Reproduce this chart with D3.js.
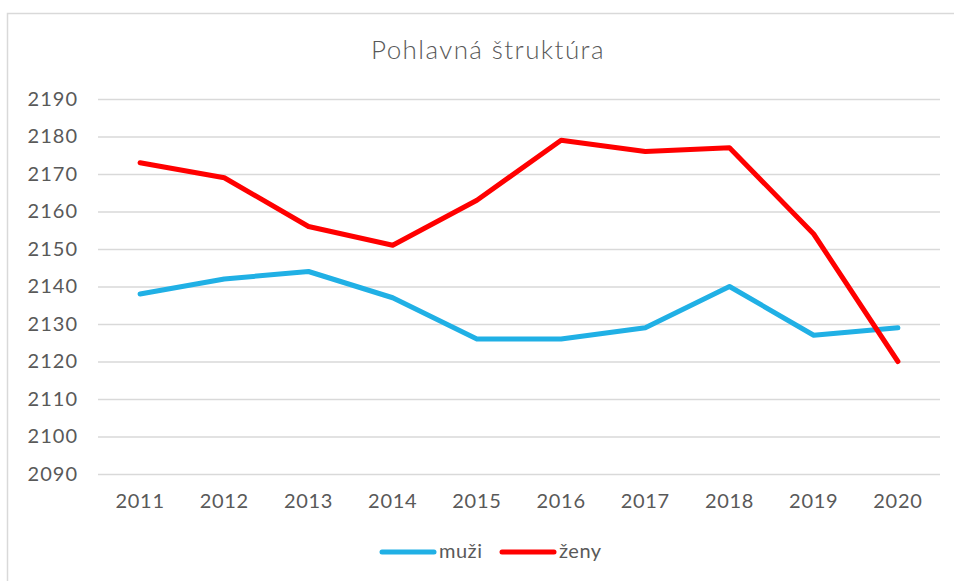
<!DOCTYPE html>
<html>
<head>
<meta charset="utf-8">
<script src="https://cdn.jsdelivr.net/npm/d3@7"></script>
<style>
  body { margin: 0; background: #fff; }
  svg { display: block; font-family: 'Lato', 'DejaVu Sans', sans-serif; }
</style>
</head>
<body>
<script>
var years = ['2011', '2012', '2013', '2014', '2015', '2016', '2017', '2018', '2019', '2020'],
    muzi = [2138, 2142, 2144, 2137, 2126, 2126, 2129, 2140, 2127, 2129],
    zeny = [2173, 2169, 2156, 2151, 2163, 2179, 2176, 2177, 2154, 2120],
    yticks = [2090, 2100, 2110, 2120, 2130, 2140, 2150, 2160, 2170, 2180, 2190],
    series = [
        { name: 'muži', values: muzi, color: '#20b0e5' },
        { name: 'ženy', values: zeny, color: '#ff0000' }
    ];

var svgwidth = 954,
    svgheight = 581,
    plot = { left: 98, right: 940, top: 99, bottom: 474 }, //plot area in px
    textcolor = '#595959';

var svg = d3.select('body')
    .append('svg')
    .attr('width', svgwidth)
    .attr('height', svgheight);

//chart frame (runs off the right and bottom edge)
svg.append('rect')
    .attr('x', 7.5)
    .attr('y', 13.5)
    .attr('width', 960)
    .attr('height', 600)
    .attr('fill', '#fff')
    .attr('stroke', '#d9d9d9')
    .attr('stroke-width', 1.5);

var xscale = d3.scaleBand()
    .domain(years)
    .range([plot.left, plot.right]);

var yscale = d3.scaleLinear()
    .domain([2090, 2190])
    .range([plot.bottom, plot.top]);

//gridlines + y labels
var yaxis = d3.axisLeft(yscale)
    .tickValues(yticks)
    .tickSize(-(plot.right - plot.left))
    .tickPadding(20)
    .tickFormat(d3.format('d'));

var yg = svg.append('g')
    .attr('transform', 'translate(' + plot.left + ',0)')
    .call(yaxis);
yg.select('.domain').remove();
yg.selectAll('.tick line')
    .attr('stroke', '#d9d9d9')
    .attr('stroke-width', 1.3);
yg.selectAll('.tick text')
    .attr('fill', textcolor)
    .attr('font-size', '20px')
    .attr('letter-spacing', '1px')
    .attr('font-family', 'Lato, sans-serif');

//x labels
var xaxis = d3.axisBottom(xscale)
    .tickSize(0)
    .tickPadding(20);

var xg = svg.append('g')
    .attr('transform', 'translate(0,' + plot.bottom + ')')
    .call(xaxis);
xg.select('.domain').remove();
xg.selectAll('.tick text')
    .attr('fill', textcolor)
    .attr('font-size', '20px')
    .attr('letter-spacing', '0.7px')
    .attr('font-family', 'Lato, sans-serif');

//lines
var line = d3.line()
    .x(function (d, i) { return xscale(years[i]) + xscale.bandwidth() / 2; })
    .y(function (d) { return yscale(d); });

svg.selectAll('.series')
    .data(series)
    .enter().append('path')
    .attr('class', 'series')
    .attr('d', function (d) { return line(d.values); })
    .attr('fill', 'none')
    .attr('stroke', function (d) { return d.color; })
    .attr('stroke-width', 5)
    .attr('stroke-linejoin', 'round')
    .attr('stroke-linecap', 'round');

//title
svg.append('text')
    .attr('x', 488)
    .attr('y', 59)
    .attr('text-anchor', 'middle')
    .attr('fill', textcolor)
    .attr('font-size', '26px')
    .attr('font-weight', 300)
    .attr('letter-spacing', '1.4px')
    .text('Pohlavná štruktúra');

//legend
var legendx = [380, 500];
var legend = svg.selectAll('.legend')
    .data(series)
    .enter().append('g')
    .attr('class', 'legend')
    .attr('transform', function (d, i) { return 'translate(' + legendx[i] + ',552)'; });
legend.append('line')
    .attr('x1', 2)
    .attr('x2', 54)
    .attr('stroke', function (d) { return d.color; })
    .attr('stroke-width', 5)
    .attr('stroke-linecap', 'round');
legend.append('text')
    .attr('x', 59)
    .attr('y', 6)
    .attr('fill', textcolor)
    .attr('font-size', '20px')
    .attr('letter-spacing', '0.5px')
    .text(function (d) { return d.name; });
</script>
</body>
</html>
